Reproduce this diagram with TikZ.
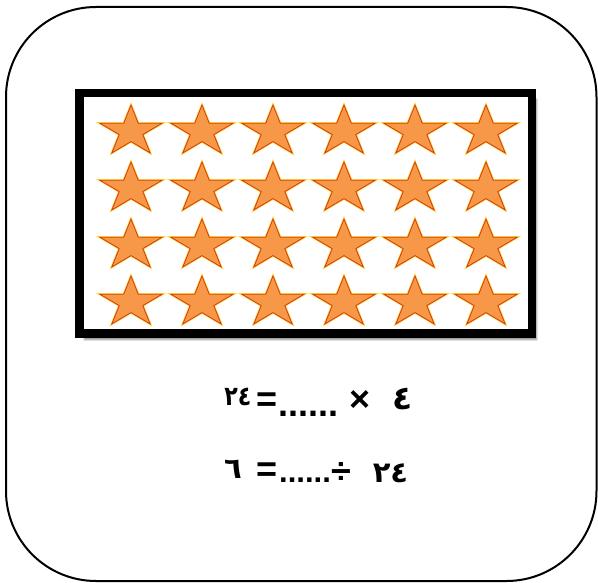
\documentclass[tikz,border=0pt]{standalone}
\usepackage{fontspec}
\usetikzlibrary{shadows.blur}
\TeXXeTstate=1
\newfontfamily\arabicfont[Script=Arabic]{DejaVu Sans}
\newfontfamily\symfont{Liberation Sans}
\definecolor{starfill}{RGB}{247,152,72}
\definecolor{staredge}{RGB}{210,60,20}
\definecolor{starglow}{RGB}{255,215,60}
\tikzset{
  card/.style={draw=black, line width=2pt, rounded corners=90pt},
  frame/.style={draw=black, fill=white, line width=8.5pt,
    blur shadow={shadow xshift=5pt, shadow yshift=-6pt, shadow blur steps=6, shadow opacity=45}},
  starstyle/.style={fill=starfill, draw=staredge, line width=0.8pt, line join=miter,
    preaction={draw=starglow, line width=2.2pt}},
  sym/.style={inner sep=0pt, font=\symfont\bfseries\fontsize{36}{36}\selectfont},
  dots/.style={inner sep=0pt, font=\symfont\bfseries\fontsize{#1}{#1}\selectfont},
  dig/.style={inner sep=0pt, font=\arabicfont\bfseries\fontsize{#1}{#1}\selectfont},
}
\begin{document}
\begin{tikzpicture}[x=1pt, y=-1pt]
\useasboundingbox (0,0) rectangle (598,583);
\draw[card] (6,7) rectangle (596.5,581);
\draw[frame] (79.25,93.25) rectangle (531.75,333.75);
\foreach \r in {0,...,3}{
  \foreach \c in {0,...,5}{
    \begin{scope}[shift={(131+71*\c,131.5+57*\r)}, xscale=1.23]
      \path[starstyle] (270:26.5) -- (306:10.1) -- (342:26.5) -- (18:10.1) -- (54:26.5)
        -- (90:10.1) -- (126:26.5) -- (162:10.1) -- (198:26.5) -- (234:10.1) -- cycle;
    \end{scope}
  }
}
% line 1
\node[dig=27, xscale=0.82, transform shape] (a1) at (238,397) {\beginR\beginL ٢٤\endL\endR};
\node[sym] (e1) at (267,402) {=};
\node[dots=36] (d1) at (308.5,413.5) {......};
\node[sym] (t1) at (360,401) {×};
\node[dig=33] (b1) at (402.5,399.5) {\beginR ٤\endR};
% line 2
\node[dig=29] (a2) at (233,469.5) {\beginR ٦\endR};
\node[sym] (e2) at (267,472.5) {=};
\node[dots=31] (d2) at (305,480.5) {......};
\node[sym] (v2) at (341,473.5) {÷};
\node[dig=29] (b2) at (390.5,473.5) {\beginR\beginL ٢٤\endL\endR};
\end{tikzpicture}
\end{document}
